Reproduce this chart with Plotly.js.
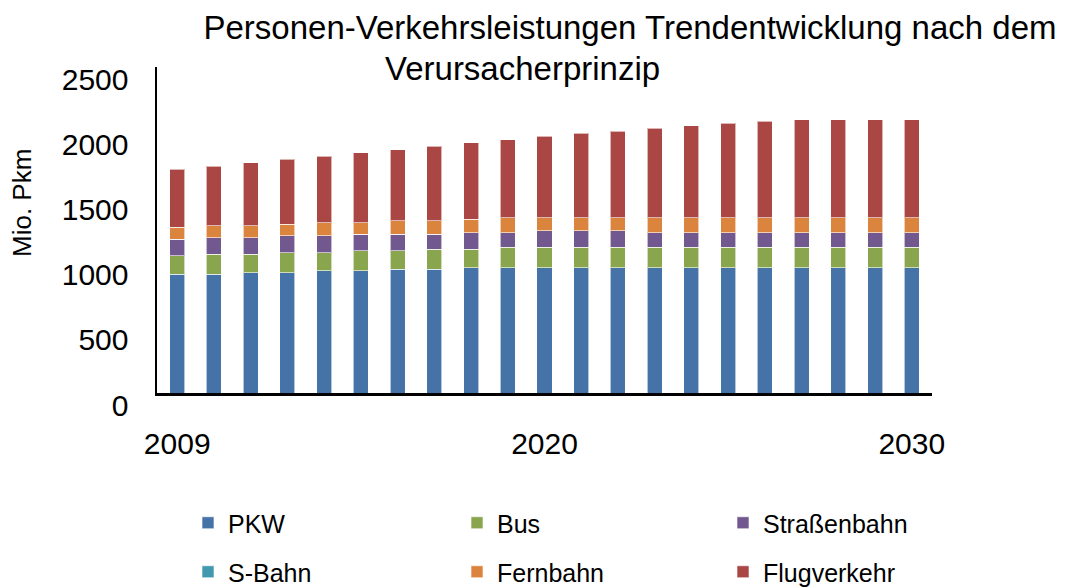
<!DOCTYPE html>
<html>
<head>
<meta charset="utf-8">
<script src="https://cdn.plot.ly/plotly-3.0.1.min.js"></script>
<style>html,body{margin:0;padding:0;background:#fff;}#chart{width:1070px;height:588px;}</style>
</head>
<body>
<div id="chart"></div>
<script>
// Categories (21 bars)
const years = [2010,2011,2012,2013,2014,2015,2016,2017,2018,2019,2020,2021,2022,2023,2024,2025,2026,2027,2028,2029,2030];
const tickYears = [2010, 2020, 2030];
const tickLabels = ['2009', '2020', '2030'];
const yTicks = [0, 500, 1000, 1500, 2000, 2500];

// Series values (Mio. Pkm)
const pkw = [912,912,924,924,937,937,950,950,962,962,962,962,962,962,962,962,962,962,962,962,962];
const bus = [142,153,141,153,140,153,140,153,141,157,157,157,157,157,157,157,157,157,157,157,157];
const strassenbahn = [126,125,125,128,128,128,128,115,127,111,124,124,124,111,111,111,111,111,111,111,111];
const sbahn = [0,0,0,0,0,0,0,0,0,0,0,0,0,0,0,0,0,0,0,0,0];
const fernbahn = [92,94,94,90,102,89,102,102,103,115,102,102,102,115,115,115,115,115,115,115,115];
const flugverkehr = [444,455,483,498,509,534,546,572,585,598,624,647,662,685,703,723,739,749,749,749,749];

const FONT = 'Liberation Sans, Arial, sans-serif';
const line = {color: 'rgba(255,255,255,0.6)', width: 1};

function mk(name, vals, color, legend) {
  return {type: 'bar', name: name, x: years, y: vals, legend: legend,
          marker: {color: color, line: line}, hoverinfo: 'x+y+name'};
}

const data = [
  mk('PKW', pkw, '#4572A7', 'legend'),
  mk('Bus', bus, '#89A54E', 'legend2'),
  mk('Straßenbahn', strassenbahn, '#71588F', 'legend3'),
  mk('S-Bahn', sbahn, '#4198AF', 'legend4'),
  mk('Fernbahn', fernbahn, '#DB843D', 'legend5'),
  mk('Flugverkehr', flugverkehr, '#AA4643', 'legend6')
];

function leg(px, py) {
  return {
    orientation: 'h', traceorder: 'normal',
    font: {family: FONT, size: 25, color: '#000'}, bgcolor: 'rgba(0,0,0,0)',
    x: (px - 157) / 775, y: (393 - py) / 326,
    xanchor: 'left', yanchor: 'middle', itemclick: false
  };
}

const layout = {
  width: 1070, height: 588,
  margin: {l: 157, r: 138, t: 67, b: 195, autoexpand: false},
  paper_bgcolor: '#fff', plot_bgcolor: '#fff',
  barmode: 'stack', bargap: 0.59,
  font: {family: FONT, color: '#000'},
  showlegend: true,
  title: {text: 'Personen-Verkehrsleistungen Trendentwicklung nach dem',
          font: {family: FONT, size: 33, color: '#000'},
          x: 630/1070, xanchor: 'center', xref: 'container',
          y: 1 - 27/588, yanchor: 'middle', yref: 'container'},
  annotations: [
    {text: 'Verursacherprinzip', xref: 'paper', yref: 'paper',
     x: (522-157)/775, y: (393-68)/326, xanchor: 'center', yanchor: 'middle',
     showarrow: false, font: {family: FONT, size: 33, color: '#000'}},
    {text: 'Mio. Pkm', xref: 'paper', yref: 'paper', textangle: -90,
     x: (22-157)/775, y: (393-203)/326, xanchor: 'center', yanchor: 'middle',
     showarrow: false, font: {family: FONT, size: 26, color: '#000'}}
  ],
  xaxis: {
    range: [2009.45, 2030.55], tickmode: 'array', tickvals: tickYears, ticktext: tickLabels,
    showgrid: false, zeroline: false, showline: true, linecolor: '#000', linewidth: 3,
    ticks: '', ticklabelstandoff: 22, tickfont: {family: FONT, size: 30, color: '#000'}, fixedrange: true
  },
  yaxis: {
    range: [0, 2500], tickmode: 'array', tickvals: yTicks,
    showgrid: false, zeroline: false, showline: true, linecolor: '#000', linewidth: 2.5,
    ticks: '', ticklabelstandoff: 20, ticklabelshift: 12,
    tickfont: {family: FONT, size: 30, color: '#000'},
    fixedrange: true
  },
  legend: leg(188, 523),
  legend2: leg(457, 523),
  legend3: leg(723, 523),
  legend4: leg(188, 572),
  legend5: leg(457, 572),
  legend6: leg(723, 572)
};

Plotly.newPlot('chart', data, layout, {displayModeBar: false, staticPlot: true});
</script>
</body>
</html>
